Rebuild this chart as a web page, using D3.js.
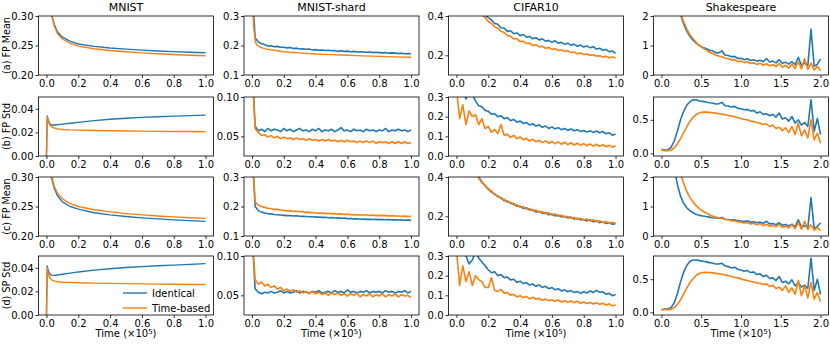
<!DOCTYPE html>
<html>
<head>
<meta charset="utf-8">
<script src="https://cdn.jsdelivr.net/npm/d3@7"></script>
<style>
    body { margin: 0; background: #fff; }
    text { font-family: "DejaVu Sans", sans-serif; }
</style>
</head>
<body>
<div id="chart"></div>
<script>
// categories
let datasets = ['MNIST', 'MNIST-shard', 'CIFAR10', 'Shakespeare'];
let rowLabels = ['(a) FP Mean', '(b) FP Std', '(c) FP Mean', '(d) SP Std'];
let seriesNames = ['Identical', 'Time-based'];

// sample times (x 10^5)
let tSmooth = [0, 0.005, 0.01, 0.02, 0.03, 0.05, 0.07, 0.1, 0.15, 0.2, 0.3, 0.4, 0.5, 0.6, 0.7, 0.8, 0.9, 1.0];
let tGrid = [0, 0.02, 0.04, 0.06, 0.08, 0.1, 0.12, 0.14, 0.16, 0.18, 0.2, 0.22, 0.24, 0.26, 0.28, 0.3, 0.32, 0.34, 0.36, 0.38,
    0.4, 0.42, 0.44, 0.46, 0.48, 0.5, 0.52, 0.54, 0.56, 0.58, 0.6, 0.62, 0.64, 0.66, 0.68, 0.7, 0.72, 0.74, 0.76, 0.78,
    0.8, 0.82, 0.84, 0.86, 0.88, 0.9, 0.92, 0.94, 0.96, 0.98, 1.0];
let tGridS = [0, 0.04, 0.08, 0.12, 0.16, 0.2, 0.24, 0.28, 0.32, 0.36, 0.4, 0.44, 0.48, 0.52, 0.56, 0.6, 0.64, 0.68, 0.72, 0.76,
    0.8, 0.84, 0.88, 0.92, 0.96, 1.0, 1.04, 1.08, 1.12, 1.16, 1.2, 1.24, 1.28, 1.32, 1.36, 1.4, 1.44, 1.48, 1.52, 1.56,
    1.6, 1.64, 1.68, 1.72, 1.76, 1.8, 1.84, 1.88, 1.92, 1.96, 2.0];

// (a) FP Mean
let a_mnist_id = [0.60, 0.50, 0.42, 0.34, 0.305, 0.285, 0.273, 0.264, 0.257, 0.2525, 0.2485, 0.2458, 0.2438, 0.2422, 0.2408, 0.2396, 0.2386, 0.2378];
let a_mnist_tb = [0.60, 0.50, 0.42, 0.34, 0.303, 0.282, 0.270, 0.261, 0.2535, 0.249, 0.2445, 0.2415, 0.2393, 0.2375, 0.236, 0.2347, 0.2336, 0.2327];
let a_shard_id = [0.40, 0.226, 0.212, 0.206, 0.203, 0.198, 0.199, 0.196, 0.197, 0.194, 0.194, 0.192, 0.193, 0.190, 0.191, 0.188, 0.189, 0.187, 0.188, 0.185,
    0.186, 0.184, 0.185, 0.183, 0.184, 0.182, 0.183, 0.180, 0.182, 0.180, 0.181, 0.179, 0.180, 0.178, 0.179, 0.178, 0.177, 0.178, 0.176, 0.177,
    0.176, 0.175, 0.176, 0.174, 0.175, 0.174, 0.173, 0.174, 0.172, 0.173, 0.172];
let a_shard_tb = [0.40, 0.33, 0.27, 0.215, 0.202, 0.195, 0.191, 0.187, 0.183, 0.179, 0.175, 0.171, 0.169, 0.167, 0.165, 0.163, 0.1615, 0.160];
let a_cifar_id = [0.95, 0.85, 0.75, 0.66, 0.58, 0.52, 0.47, 0.44, 0.415, 0.405, 0.392, 0.38, 0.362, 0.358, 0.34, 0.338, 0.322, 0.325, 0.31, 0.314,
    0.300, 0.306, 0.292, 0.296, 0.284, 0.29, 0.278, 0.284, 0.272, 0.276, 0.266, 0.274, 0.262, 0.266, 0.256, 0.262, 0.252, 0.256, 0.246, 0.252,
    0.242, 0.248, 0.238, 0.244, 0.232, 0.236, 0.226, 0.23, 0.218, 0.222, 0.21];
let a_cifar_tb = [0.95, 0.8, 0.7, 0.61, 0.54, 0.48, 0.44, 0.425, 0.405, 0.392, 0.372, 0.362, 0.345, 0.338, 0.322, 0.316, 0.300, 0.298, 0.284, 0.285,
    0.270, 0.272, 0.260, 0.262, 0.250, 0.254, 0.243, 0.246, 0.236, 0.240, 0.230, 0.234, 0.225, 0.228, 0.219, 0.223, 0.214, 0.217, 0.208, 0.212,
    0.204, 0.207, 0.199, 0.203, 0.196, 0.198, 0.191, 0.195, 0.188, 0.192, 0.186];
let a_shakes_id = [5.0, 4.6, 4.1, 3.6, 3.0, 2.45, 2.05, 1.72, 1.48, 1.30, 1.17, 1.07, 0.99, 0.93, 0.90, 0.84, 0.82, 0.76, 0.75, 0.82,
    0.67, 0.66, 0.62, 0.63, 0.56, 0.57, 0.52, 0.55, 0.49, 0.52, 0.47, 0.50, 0.45, 0.56, 0.44, 0.47, 0.41, 0.52, 0.40, 0.43,
    0.37, 0.45, 0.35, 0.60, 0.33, 0.40, 0.32, 1.55, 0.30, 0.36, 0.55];
let a_shakes_tb = [5.0, 4.6, 4.1, 3.6, 3.05, 2.5, 2.1, 1.8, 1.55, 1.36, 1.22, 1.1, 1.0, 0.92, 0.85, 0.78, 0.73, 0.68, 0.64, 0.62,
    0.57, 0.56, 0.51, 0.52, 0.46, 0.47, 0.42, 0.45, 0.39, 0.41, 0.36, 0.40, 0.33, 0.38, 0.31, 0.35, 0.28, 0.40, 0.26, 0.33,
    0.24, 0.36, 0.22, 0.45, 0.21, 0.55, 0.19, 0.40, 0.17, 0.30, 0.14];

// (b) FP Std
let b_mnist_id = [0.0, 0.0340, 0.0312, 0.0276, 0.0263, 0.0263, 0.0266, 0.0270, 0.0278, 0.0285, 0.0300, 0.0312, 0.0320, 0.0327, 0.0333, 0.0338, 0.0342, 0.0346];
let b_mnist_tb = [0.0, 0.0330, 0.0300, 0.0265, 0.0250, 0.0237, 0.0230, 0.0225, 0.0221, 0.0219, 0.0216, 0.0214, 0.0212, 0.0211, 0.0209, 0.0208, 0.0207, 0.0206];
let b_shard_id = [0.14, 0.063, 0.057, 0.059, 0.056, 0.060, 0.057, 0.059, 0.058, 0.056, 0.060, 0.057, 0.059, 0.056, 0.058, 0.060, 0.057, 0.058, 0.056, 0.059,
    0.057, 0.060, 0.056, 0.058, 0.057, 0.059, 0.056, 0.058, 0.061, 0.057, 0.058, 0.056, 0.059, 0.057, 0.058, 0.056, 0.059, 0.057, 0.058, 0.056,
    0.058, 0.057, 0.060, 0.056, 0.058, 0.057, 0.059, 0.057, 0.058, 0.056, 0.058];
let b_shard_tb = [0.14, 0.060, 0.055, 0.051, 0.052, 0.049, 0.051, 0.048, 0.050, 0.047, 0.049, 0.047, 0.048, 0.046, 0.048, 0.046, 0.047, 0.045, 0.047, 0.045,
    0.046, 0.044, 0.046, 0.044, 0.046, 0.044, 0.045, 0.043, 0.045, 0.043, 0.045, 0.043, 0.044, 0.042, 0.044, 0.042, 0.044, 0.042, 0.044, 0.041,
    0.043, 0.042, 0.043, 0.041, 0.043, 0.041, 0.043, 0.041, 0.043, 0.041, 0.042];
let b_cifar_id = [0.45, 0.40, 0.36, 0.29, 0.34, 0.31, 0.28, 0.255, 0.25, 0.232, 0.228, 0.212, 0.215, 0.2, 0.205, 0.19, 0.195, 0.18, 0.186, 0.172,
    0.178, 0.166, 0.17, 0.158, 0.164, 0.152, 0.158, 0.146, 0.152, 0.14, 0.148, 0.138, 0.144, 0.134, 0.14, 0.13, 0.137, 0.128, 0.134, 0.125,
    0.13, 0.122, 0.128, 0.12, 0.127, 0.118, 0.124, 0.113, 0.118, 0.106, 0.112];
let b_cifar_tb = [0.34, 0.19, 0.26, 0.16, 0.23, 0.2, 0.21, 0.16, 0.19, 0.14, 0.15, 0.12, 0.135, 0.115, 0.16, 0.105, 0.11, 0.095, 0.105, 0.088,
    0.097, 0.082, 0.09, 0.076, 0.085, 0.072, 0.08, 0.068, 0.077, 0.065, 0.074, 0.062, 0.072, 0.06, 0.07, 0.058, 0.067, 0.056, 0.065, 0.054,
    0.063, 0.052, 0.062, 0.05, 0.06, 0.049, 0.057, 0.047, 0.055, 0.045, 0.052];
let b_shakes_id = [0.06, 0.05, 0.05, 0.09, 0.18, 0.33, 0.50, 0.63, 0.72, 0.77, 0.80, 0.795, 0.78, 0.775, 0.765, 0.755, 0.75, 0.735, 0.74, 0.76,
    0.71, 0.705, 0.69, 0.70, 0.67, 0.665, 0.65, 0.655, 0.63, 0.64, 0.60, 0.62, 0.58, 0.59, 0.56, 0.58, 0.54, 0.60, 0.51, 0.53,
    0.48, 0.55, 0.45, 0.50, 0.42, 0.46, 0.40, 0.80, 0.33, 0.52, 0.28];
let b_shakes_tb = [0.05, 0.04, 0.04, 0.05, 0.08, 0.14, 0.22, 0.31, 0.40, 0.48, 0.54, 0.58, 0.605, 0.615, 0.615, 0.61, 0.605, 0.60, 0.59, 0.585,
    0.575, 0.565, 0.555, 0.545, 0.53, 0.52, 0.505, 0.50, 0.48, 0.475, 0.455, 0.45, 0.43, 0.44, 0.40, 0.42, 0.37, 0.39, 0.34, 0.38,
    0.31, 0.40, 0.28, 0.45, 0.26, 0.35, 0.23, 0.50, 0.20, 0.30, 0.15];

// (c) FP Mean
let c_mnist_id = [0.60, 0.50, 0.42, 0.34, 0.30, 0.28, 0.268, 0.258, 0.250, 0.2455, 0.2395, 0.2358, 0.2330, 0.2308, 0.2290, 0.2274, 0.2260, 0.2248];
let c_mnist_tb = [0.60, 0.50, 0.42, 0.34, 0.303, 0.284, 0.272, 0.263, 0.255, 0.250, 0.2445, 0.2408, 0.2380, 0.2358, 0.2340, 0.2324, 0.2310, 0.2298];
let c_shard_id = [0.40, 0.200, 0.186, 0.181, 0.178, 0.176, 0.175, 0.173, 0.172, 0.171, 0.170, 0.169, 0.1695, 0.168, 0.1685, 0.167, 0.1665, 0.166, 0.1655, 0.165,
    0.164, 0.1645, 0.163, 0.1635, 0.162, 0.1625, 0.161, 0.1615, 0.160, 0.1605, 0.159, 0.1595, 0.158, 0.1585, 0.157, 0.1575, 0.1565, 0.157, 0.156, 0.1565,
    0.1555, 0.156, 0.155, 0.1555, 0.1545, 0.155, 0.154, 0.1545, 0.1535, 0.154, 0.153];
let c_shard_tb = [0.40, 0.215, 0.205, 0.200, 0.197, 0.194, 0.193, 0.190, 0.191, 0.188, 0.187, 0.185, 0.186, 0.183, 0.184, 0.182, 0.182, 0.180, 0.181, 0.179,
    0.179, 0.177, 0.178, 0.176, 0.177, 0.175, 0.176, 0.174, 0.175, 0.173, 0.174, 0.172, 0.173, 0.171, 0.172, 0.171, 0.171, 0.170, 0.171, 0.169,
    0.170, 0.169, 0.170, 0.168, 0.169, 0.168, 0.168, 0.167, 0.168, 0.166, 0.167];
let c_cifar_id = [0.95, 0.82, 0.70, 0.60, 0.52, 0.46, 0.42, 0.40, 0.375, 0.355, 0.34, 0.322, 0.315, 0.30, 0.296, 0.28, 0.278, 0.266, 0.265, 0.252,
    0.252, 0.24, 0.243, 0.232, 0.234, 0.222, 0.226, 0.215, 0.22, 0.208, 0.212, 0.202, 0.207, 0.197, 0.2, 0.192, 0.196, 0.186, 0.19, 0.182,
    0.185, 0.176, 0.182, 0.172, 0.177, 0.168, 0.172, 0.163, 0.168, 0.16, 0.163];
let c_cifar_tb = [0.95, 0.80, 0.68, 0.58, 0.51, 0.455, 0.42, 0.395, 0.37, 0.36, 0.335, 0.33, 0.31, 0.305, 0.29, 0.286, 0.272, 0.272, 0.258, 0.26,
    0.246, 0.25, 0.236, 0.24, 0.228, 0.232, 0.22, 0.224, 0.212, 0.218, 0.206, 0.212, 0.2, 0.206, 0.195, 0.2, 0.19, 0.195, 0.185, 0.19,
    0.18, 0.186, 0.176, 0.182, 0.172, 0.178, 0.168, 0.174, 0.165, 0.17, 0.165];
let c_shakes_id = [5.0, 4.4, 3.7, 3.0, 2.3, 1.75, 1.35, 1.1, 0.95, 0.85, 0.78, 0.73, 0.70, 0.68, 0.66, 0.64, 0.62, 0.61, 0.60, 0.63,
    0.57, 0.56, 0.54, 0.55, 0.52, 0.51, 0.49, 0.52, 0.47, 0.48, 0.45, 0.47, 0.43, 0.50, 0.41, 0.42, 0.38, 0.45, 0.36, 0.39,
    0.34, 0.40, 0.32, 0.55, 0.30, 0.35, 0.28, 1.3, 0.26, 0.32, 0.45];
let c_shakes_tb = [5.0, 4.6, 4.1, 3.6, 3.05, 2.5, 2.1, 1.78, 1.5, 1.3, 1.14, 1.02, 0.92, 0.84, 0.78, 0.72, 0.68, 0.64, 0.61, 0.60,
    0.56, 0.55, 0.51, 0.52, 0.48, 0.47, 0.44, 0.46, 0.41, 0.43, 0.38, 0.42, 0.35, 0.40, 0.33, 0.36, 0.31, 0.40, 0.29, 0.34,
    0.27, 0.38, 0.25, 0.45, 0.23, 0.50, 0.22, 0.38, 0.2, 0.28, 0.18];

// (d) SP Std
let d_mnist_id = [0.0, 0.0415, 0.0380, 0.0350, 0.0338, 0.0336, 0.0339, 0.0345, 0.0355, 0.0365, 0.0380, 0.0392, 0.0402, 0.0410, 0.0417, 0.0423, 0.0429, 0.0435];
let d_mnist_tb = [0.0, 0.0400, 0.0360, 0.0320, 0.0300, 0.0287, 0.0282, 0.0278, 0.0275, 0.0273, 0.0270, 0.0268, 0.0266, 0.0264, 0.0262, 0.0260, 0.0259, 0.0258];
let d_shard_id = [0.13, 0.058, 0.054, 0.052, 0.054, 0.053, 0.055, 0.053, 0.054, 0.056, 0.053, 0.055, 0.053, 0.054, 0.056, 0.053, 0.055, 0.054, 0.053, 0.055,
    0.054, 0.056, 0.053, 0.054, 0.055, 0.053, 0.056, 0.054, 0.055, 0.053, 0.057, 0.054, 0.055, 0.053, 0.055, 0.054, 0.056, 0.053, 0.055, 0.054,
    0.055, 0.053, 0.056, 0.054, 0.055, 0.053, 0.055, 0.054, 0.056, 0.053, 0.055];
let d_shard_tb = [0.13, 0.07, 0.064, 0.067, 0.062, 0.064, 0.060, 0.062, 0.058, 0.060, 0.056, 0.058, 0.055, 0.057, 0.054, 0.056, 0.053, 0.055, 0.052, 0.055,
    0.052, 0.054, 0.051, 0.053, 0.050, 0.053, 0.051, 0.053, 0.050, 0.052, 0.049, 0.052, 0.050, 0.053, 0.048, 0.051, 0.049, 0.052, 0.048, 0.051,
    0.049, 0.052, 0.048, 0.051, 0.049, 0.052, 0.048, 0.051, 0.049, 0.050, 0.047];
let d_cifar_id = [0.45, 0.40, 0.34, 0.30, 0.26, 0.28, 0.32, 0.29, 0.27, 0.25, 0.23, 0.215, 0.22, 0.2, 0.206, 0.19, 0.193, 0.178, 0.182, 0.166,
    0.172, 0.16, 0.165, 0.152, 0.158, 0.146, 0.152, 0.14, 0.146, 0.134, 0.14, 0.128, 0.134, 0.122, 0.128, 0.118, 0.124, 0.114, 0.12, 0.11,
    0.118, 0.112, 0.122, 0.114, 0.125, 0.115, 0.118, 0.106, 0.11, 0.098, 0.104];
let d_cifar_tb = [0.33, 0.15, 0.25, 0.17, 0.22, 0.15, 0.2, 0.18, 0.17, 0.14, 0.14, 0.19, 0.125, 0.12, 0.13, 0.11, 0.115, 0.1, 0.105, 0.092,
    0.098, 0.088, 0.094, 0.082, 0.09, 0.08, 0.085, 0.074, 0.082, 0.072, 0.078, 0.07, 0.076, 0.066, 0.074, 0.064, 0.072, 0.062, 0.07, 0.06,
    0.066, 0.058, 0.064, 0.056, 0.062, 0.054, 0.06, 0.05, 0.057, 0.046, 0.052];
let d_shakes_id = [0.04, 0.05, 0.05, 0.07, 0.14, 0.28, 0.46, 0.61, 0.71, 0.77, 0.79, 0.79, 0.78, 0.77, 0.765, 0.75, 0.745, 0.73, 0.73, 0.74,
    0.70, 0.69, 0.67, 0.68, 0.65, 0.64, 0.62, 0.63, 0.60, 0.61, 0.57, 0.58, 0.54, 0.56, 0.51, 0.52, 0.48, 0.54, 0.45, 0.47,
    0.43, 0.49, 0.40, 0.45, 0.38, 0.41, 0.36, 0.82, 0.33, 0.50, 0.27];
let d_shakes_tb = [0.04, 0.04, 0.04, 0.045, 0.07, 0.12, 0.19, 0.28, 0.37, 0.45, 0.51, 0.56, 0.59, 0.60, 0.605, 0.60, 0.595, 0.59, 0.58, 0.575,
    0.565, 0.555, 0.54, 0.53, 0.52, 0.505, 0.49, 0.48, 0.465, 0.46, 0.44, 0.44, 0.42, 0.43, 0.39, 0.41, 0.36, 0.38, 0.33, 0.40,
    0.30, 0.37, 0.27, 0.48, 0.25, 0.40, 0.22, 0.45, 0.2, 0.3, 0.16];

// axis limits and ticks, [row][col]
let yLimits = [
    [[0.2, 0.3], [0.1, 0.3], [0.1, 0.4], [0, 2]],
    [[0, 0.05], [0.025, 0.1], [0, 0.3], [-0.04, 0.84]],
    [[0.2, 0.3], [0.1, 0.3], [0.1, 0.4], [0, 2]],
    [[0, 0.05], [0.025, 0.1], [0, 0.3], [-0.04, 0.85]]
];
let yTicks = [
    [[0.2, 0.25, 0.3], [0.1, 0.2, 0.3], [0.2, 0.4], [0, 1, 2]],
    [[0, 0.02, 0.04], [0.05, 0.1], [0, 0.1, 0.2, 0.3], [0, 0.5]],
    [[0.2, 0.25, 0.3], [0.1, 0.2, 0.3], [0.2, 0.4], [0, 1, 2]],
    [[0, 0.02, 0.04], [0.05, 0.1], [0, 0.1, 0.2, 0.3], [0, 0.5]]
];
let yDigits = [[2, 1, 1, 0], [2, 2, 1, 1], [2, 1, 1, 0], [2, 2, 1, 1]];
let xTicks = [0, 0.2, 0.4, 0.6, 0.8, 1.0];
let xTicksS = [0, 0.5, 1.0, 1.5, 2.0];

// series per panel: [x, identical, x, time-based]
let panelData = [
    [[tSmooth, a_mnist_id, tSmooth, a_mnist_tb], [tGrid, a_shard_id, tSmooth, a_shard_tb], [tGrid, a_cifar_id, tGrid, a_cifar_tb], [tGridS, a_shakes_id, tGridS, a_shakes_tb]],
    [[tSmooth, b_mnist_id, tSmooth, b_mnist_tb], [tGrid, b_shard_id, tGrid, b_shard_tb], [tGrid, b_cifar_id, tGrid, b_cifar_tb], [tGridS, b_shakes_id, tGridS, b_shakes_tb]],
    [[tSmooth, c_mnist_id, tSmooth, c_mnist_tb], [tGrid, c_shard_id, tGrid, c_shard_tb], [tGrid, c_cifar_id, tGrid, c_cifar_tb], [tGridS, c_shakes_id, tGridS, c_shakes_tb]],
    [[tSmooth, d_mnist_id, tSmooth, d_mnist_tb], [tGrid, d_shard_id, tGrid, d_shard_tb], [tGrid, d_cifar_id, tGrid, d_cifar_tb], [tGridS, d_shakes_id, tGridS, d_shakes_tb]]
];

let colors = ['#1f77b4', '#ff7f0e'];
let svgWidth = 830;
let svgHeight = 346;
let colLeft = [38.5, 244, 448.5, 653.5];
let rowTop = [16, 97, 177, 256];
let panelW = 175;
let panelH = 59;
let fontSize = 10;

let svg = d3.select('#chart')
    .append('svg')
    .attr('width', svgWidth)
    .attr('height', svgHeight);

let defs = svg.append('defs');

rowTop.forEach(function (top, r) {
    colLeft.forEach(function (left, c) {
        let xMax = c === 3 ? 2.0 : 1.0;
        let pad = xMax * 0.05;
        let x = d3.scaleLinear().domain([-pad, xMax + pad]).range([0, panelW]);
        let y = d3.scaleLinear().domain(yLimits[r][c]).range([panelH, 0]);

        let g = svg.append('g').attr('transform', `translate(${left},${top})`);

        let clipId = `clip-${r}-${c}`;
        defs.append('clipPath').attr('id', clipId)
            .append('rect').attr('width', panelW).attr('height', panelH);

        // lines
        let lineGroup = g.append('g').attr('clip-path', `url(#${clipId})`);
        let line = d3.line().x(d => x(d[0])).y(d => y(d[1]));
        let pd = panelData[r][c];
        [0, 1].forEach(function (s) {
            let pts = d3.zip(pd[s * 2], pd[s * 2 + 1]);
            lineGroup.append('path')
                .attr('d', line(pts))
                .attr('fill', 'none')
                .attr('stroke', colors[s])
                .attr('stroke-width', pd[s * 2] === tSmooth ? 1.4 : 1.6)
                .attr('stroke-linejoin', 'round');
        });

        // axes
        let xAxis = d3.axisBottom(x)
            .tickValues(c === 3 ? xTicksS : xTicks)
            .tickFormat(d3.format('.1f'))
            .tickSize(3).tickPadding(2);
        let yAxis = d3.axisLeft(y)
            .tickValues(yTicks[r][c])
            .tickFormat(d3.format(`.${yDigits[r][c]}f`))
            .tickSize(3).tickPadding(2);

        let xa = g.append('g').attr('transform', `translate(0,${panelH})`).call(xAxis);
        let ya = g.append('g').call(yAxis);
        [xa, ya].forEach(function (a) {
            a.select('.domain').remove();
            a.selectAll('line').attr('stroke', '#000').attr('stroke-width', 0.8);
            a.selectAll('text').attr('fill', '#000')
                .style('font-size', fontSize + 'px')
                .style('font-family', '"DejaVu Sans", sans-serif');
        });

        g.append('rect')
            .attr('width', panelW).attr('height', panelH)
            .attr('fill', 'none').attr('stroke', '#000').attr('stroke-width', 0.8);

        if (r === 0) {
            g.append('text')
                .attr('x', panelW / 2).attr('y', -5.5)
                .attr('text-anchor', 'middle')
                .style('font-size', '11px')
                .text(datasets[c]);
        }
        if (c === 0) {
            svg.append('text')
                .attr('transform', `translate(9.5,${top + panelH / 2}) rotate(-90)`)
                .attr('text-anchor', 'middle')
                .style('font-size', '9.6px')
                .text(rowLabels[r]);
        }
        if (r === 3) {
            let t = g.append('text')
                .attr('x', panelW / 2).attr('y', panelH + 22)
                .attr('text-anchor', 'middle')
                .style('font-size', fontSize + 'px');
            t.append('tspan').text('Time (\u00d710');
            t.append('tspan').attr('dy', -3.5).style('font-size', '7px').text('5');
            t.append('tspan').attr('dy', 3.5).text(')');
        }
    });
});

// legend inside first bottom panel
let legend = svg.append('g').attr('transform', 'translate(123,293)');
seriesNames.forEach(function (name, i) {
    let row = legend.append('g').attr('transform', `translate(0,${i * 15})`);
    row.append('line')
        .attr('x1', 0).attr('x2', 24)
        .attr('stroke', colors[i]).attr('stroke-width', 1.4);
    row.append('text')
        .attr('x', 29).attr('y', 3.5)
        .style('font-size', fontSize + 'px')
        .text(name);
});
</script>
</body>
</html>
